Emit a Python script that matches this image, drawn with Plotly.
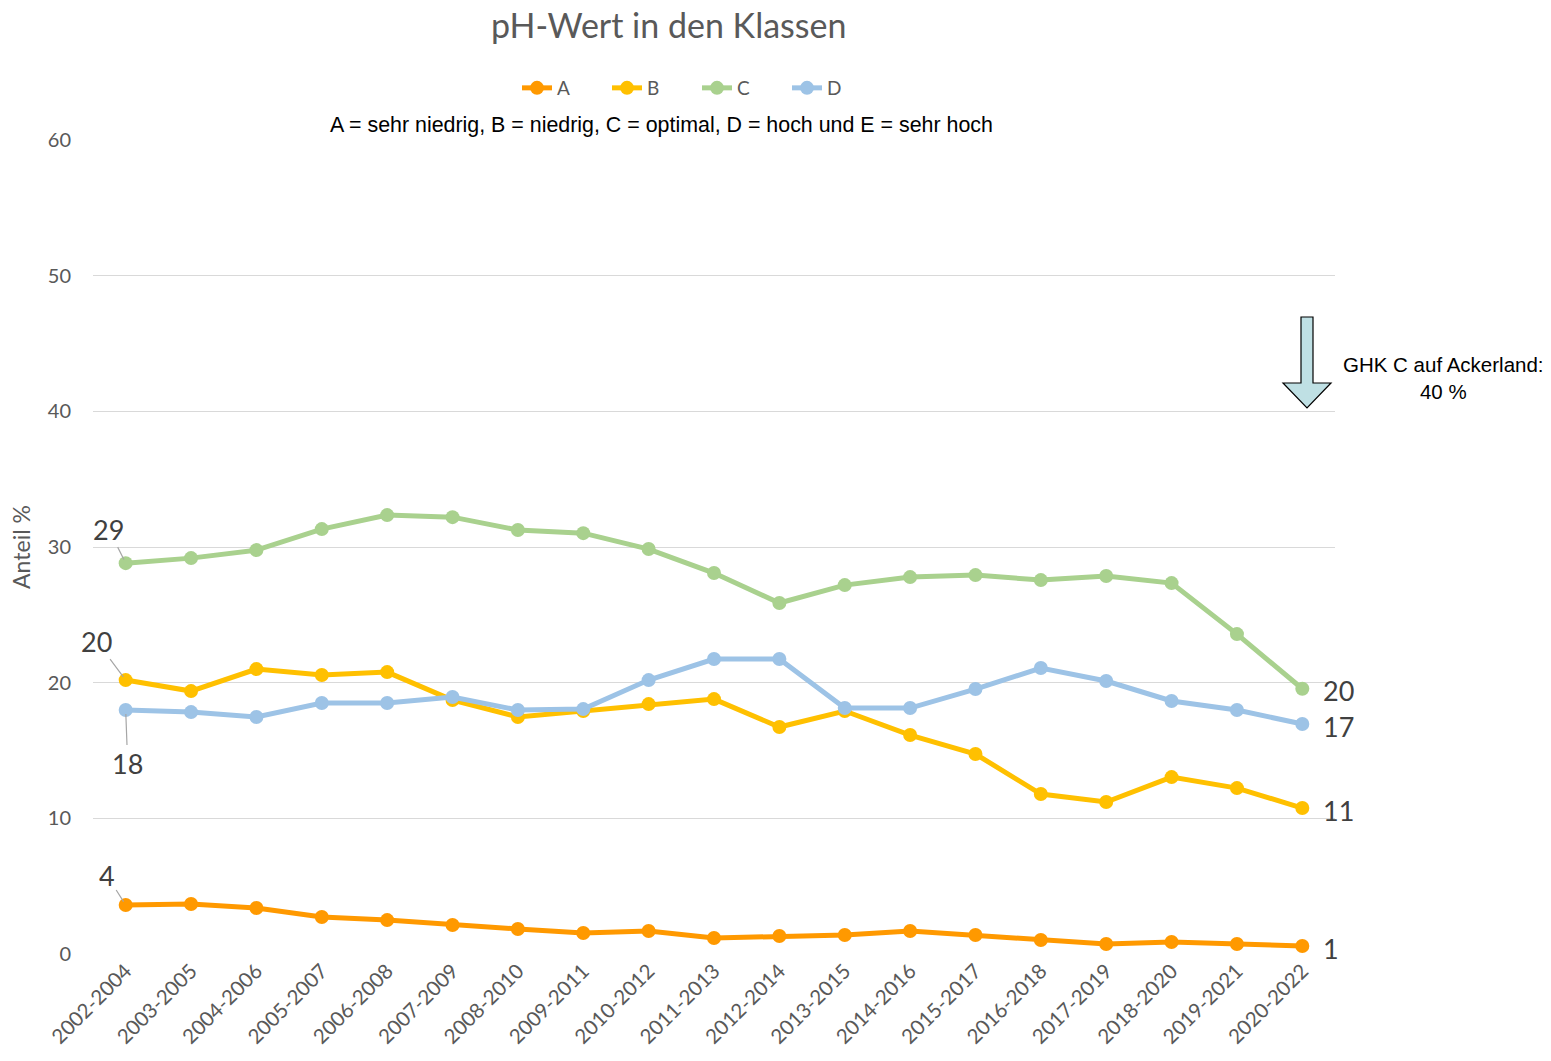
import plotly.graph_objects as go

categories = ["2002-2004", "2003-2005", "2004-2006", "2005-2007", "2006-2008", "2007-2009",
              "2008-2010", "2009-2011", "2010-2012", "2011-2013", "2012-2014", "2013-2015",
              "2014-2016", "2015-2017", "2016-2018", "2017-2019", "2018-2020", "2019-2021",
              "2020-2022"]

series_a = [3.61, 3.68, 3.39, 2.73, 2.5, 2.14, 1.84, 1.55, 1.69, 1.18, 1.33, 1.4, 1.69, 1.4,
            1.03, 0.74, 0.88, 0.74, 0.59]
series_b = [20.19, 19.38, 21.0, 20.56, 20.78, 18.72, 17.47, 17.91, 18.42, 18.79, 16.73, 17.91,
            16.14, 14.74, 11.79, 11.2, 13.04, 12.23, 10.76]
series_c = [28.81, 29.18, 29.77, 31.32, 32.35, 32.2, 31.25, 31.02, 29.85, 28.08, 25.87, 27.19,
            27.78, 27.93, 27.56, 27.86, 27.34, 23.58, 19.55]
series_d = [17.98, 17.83, 17.47, 18.5, 18.5, 18.94, 17.98, 18.05, 20.19, 21.74, 21.74, 18.13,
            18.13, 19.53, 21.08, 20.12, 18.65, 17.98, 16.95]

series_names = ["A", "B", "C", "D"]
series_colors = ["#ff9900", "#ffc000", "#a9d18e", "#9dc3e6"]

y_ticks = [0, 10, 20, 30, 40, 50, 60]
arrow_target = 40

# layout geometry (pixels)
W, H = 1551, 1061
L, R, T, B = 93, 1335, 140, 954
YMAX = 60


def px_x(x):
    return (x - L) / (R - L)


def px_y(y):
    return (B - y) / (B - T) * YMAX


def py_paper(y):
    return (B - y) / (B - T)


fig = go.Figure()
all_series = [series_a, series_b, series_c, series_d]
for name, vals, col in zip(series_names, all_series, series_colors):
    fig.add_trace(go.Scatter(
        x=categories, y=vals, name=name, mode="lines+markers",
        line=dict(color=col, width=5),
        marker=dict(color=col, size=14),
    ))

label_font = dict(family="Lato, Open Sans, sans-serif", size=27, color="#404040")

# first-point labels with leader lines
first_offsets = {"A": (-19, -30), "B": (-29, -39), "C": (-17, -34), "D": (2, 53)}
for name, vals in zip(series_names, all_series):
    ax, ay = first_offsets[name]
    fig.add_annotation(
        x=categories[0], y=vals[0], text=str(round(vals[0])),
        showarrow=True, arrowhead=0, arrowwidth=1.2, arrowcolor="#a6a6a6",
        ax=ax, ay=ay, standoff=4, font=label_font,
    )

# last-point labels
for name, vals in zip(series_names, all_series):
    fig.add_annotation(
        x=categories[-1], y=vals[-1], text=str(round(vals[-1])),
        showarrow=False, xanchor="left", yanchor="middle", xshift=19, yshift=-2,
        font=label_font,
    )

# arrow shape (GHK C target)
cx = 1307
sh_l, sh_r = 1301, 1313
hd_l, hd_r = 1283, 1331
y_top, y_head, y_tip = 317, 383, 408
path = (f"M {px_x(sh_l)} {px_y(y_top)} L {px_x(sh_r)} {px_y(y_top)} "
        f"L {px_x(sh_r)} {px_y(y_head)} L {px_x(hd_r)} {px_y(y_head)} "
        f"L {px_x(cx)} {px_y(y_tip)} L {px_x(hd_l)} {px_y(y_head)} "
        f"L {px_x(sh_l)} {px_y(y_head)} Z")
fig.add_shape(type="path", path=path, xref="paper", yref="y",
              fillcolor="#bfe0e4", line=dict(color="#000000", width=1.2), layer="above")

arial = "Liberation Sans, Arial, sans-serif"
fig.add_annotation(
    x=px_x(1443), y=px_y(378), xref="paper", yref="y",
    text=f"GHK C auf Ackerland:<br>{arrow_target} %", showarrow=False,
    font=dict(family=arial, size=20.5, color="#000000"),
    xanchor="center", yanchor="middle", align="center",
)

fig.add_annotation(
    x=px_x(661), y=py_paper(125), xref="paper", yref="paper",
    text="A = sehr niedrig, B = niedrig, C = optimal, D = hoch und E = sehr hoch",
    showarrow=False, xanchor="center", yanchor="middle",
    font=dict(family=arial, size=21.4, color="#000000"),
)

fig.add_annotation(
    x=px_x(668), y=py_paper(25), xref="paper", yref="paper",
    text="pH-Wert in den Klassen", showarrow=False, xanchor="center", yanchor="middle",
    font=dict(size=34, color="#595959", family="Lato, Open Sans, sans-serif"),
)

fig.update_layout(
    width=W, height=H,
    margin=dict(l=L, r=W - R, t=T, b=H - B, pad=0, autoexpand=False),
    paper_bgcolor="white", plot_bgcolor="white",
    font=dict(family="Lato, Open Sans, sans-serif", color="#595959"),
    legend=dict(orientation="h", x=px_x(697), xanchor="center",
                y=py_paper(88), yanchor="middle",
                font=dict(size=19, color="#595959"),
                entrywidth=45, entrywidthmode="pixels", tracegroupgap=0),
    showlegend=True,
    xaxis=dict(type="category", range=[-0.5, len(categories) - 0.5], tickangle=-45,
               showgrid=False, zeroline=False, automargin=False,
               showline=False, ticks="", tickfont=dict(size=20.5, color="#595959")),
    yaxis=dict(range=[0, YMAX], tickvals=y_ticks, showgrid=True, gridcolor="#d9d9d9",
               gridwidth=1, zeroline=False, showline=False, ticks="", automargin=False,
               tickfont=dict(size=20, color="#595959"), ticklabelstandoff=21,
               title=dict(text="Anteil %", font=dict(size=23, color="#595959"), standoff=10)),
)

fig.write_html("out.html", config={"displayModeBar": False},
               post_script="document.body.style.margin='0px';document.body.style.padding='0px';")
